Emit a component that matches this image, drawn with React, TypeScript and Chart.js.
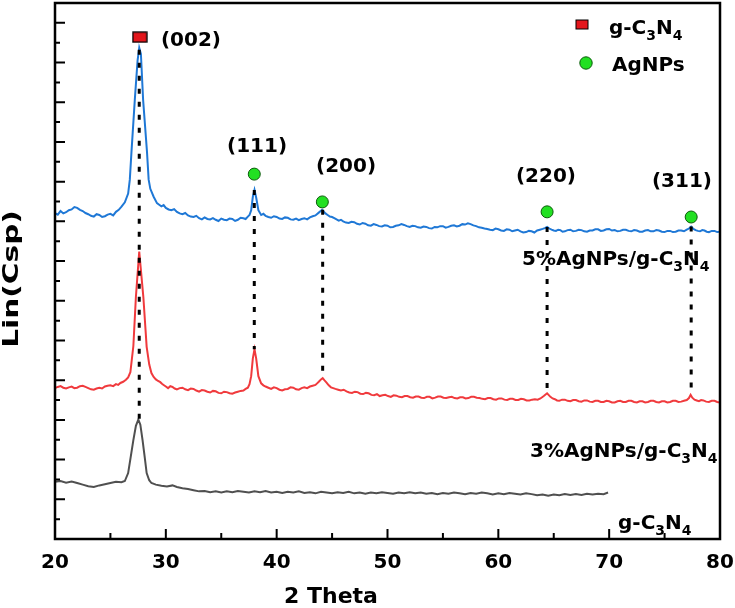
import { useEffect, useRef } from 'react';
import { Chart, registerables } from 'chart.js';
import type { Plugin } from 'chart.js';

Chart.register(...registerables);

// XRD patterns, [2theta, intensity] (arbitrary counts)
const pattern5: number[][] = [
  [20, 821], [20.25, 817], [20.5, 826], [20.75, 820], [21, 823], [21.25, 828], [21.5, 830], [21.75, 836],
  [22, 834], [22.25, 829], [22.5, 826], [22.75, 821], [23, 818], [23.25, 814], [23.5, 812], [23.75, 818],
  [24, 816], [24.25, 811], [24.5, 813], [24.75, 817], [25, 819], [25.25, 815], [25.5, 824], [25.75, 829],
  [26, 837], [26.3, 848], [26.6, 870], [26.75, 905], [26.9, 975], [27.2, 1106], [27.45, 1205],
  [27.6, 1237], [27.75, 1222], [27.95, 1106], [28.3, 975], [28.45, 905], [28.6, 882], [28.9, 862],
  [29.2, 846], [29.4, 842], [29.6, 838], [29.8, 841], [30, 834], [30.25, 830], [30.5, 828], [30.75, 831],
  [31, 824], [31.25, 820], [31.5, 818], [31.75, 821], [32, 815], [32.25, 812], [32.5, 811], [32.75, 814],
  [33, 808], [33.25, 805], [33.5, 810], [33.75, 806], [34, 805], [34.25, 808], [34.5, 804], [34.75, 801],
  [35, 807], [35.25, 804], [35.5, 803], [35.75, 807], [36, 806], [36.25, 801], [36.5, 804], [36.75, 809],
  [37, 808], [37.2, 806], [37.4, 812], [37.55, 816], [37.7, 828], [37.85, 862], [38, 879], [38.15, 860],
  [38.35, 828], [38.6, 816], [38.8, 819], [39, 814], [39.25, 811], [39.5, 809], [39.75, 813], [40, 811],
  [40.25, 807], [40.5, 806], [40.75, 810], [41, 809], [41.25, 805], [41.5, 804], [41.75, 807], [42, 803],
  [42.25, 806], [42.5, 808], [42.75, 805], [43, 810], [43.25, 813], [43.5, 815], [43.8, 822], [44.1, 829],
  [44.4, 820], [44.6, 816], [44.8, 812], [45, 811], [45.2, 808], [45.4, 805], [45.6, 802], [45.8, 804],
  [46, 800], [46.25, 797], [46.5, 796], [46.75, 799], [47, 798], [47.25, 794], [47.5, 792], [47.75, 796],
  [48, 794], [48.25, 790], [48.5, 789], [48.75, 793], [49, 791], [49.25, 788], [49.5, 787], [49.75, 790],
  [50, 789], [50.25, 785], [50.5, 786], [50.75, 789], [51, 790], [51.25, 793], [51.5, 791], [51.75, 788],
  [52, 786], [52.25, 789], [52.5, 788], [52.75, 785], [53, 784], [53.25, 787], [53.5, 786], [53.75, 783],
  [54, 782], [54.25, 786], [54.5, 785], [54.75, 788], [55, 788], [55.25, 784], [55.5, 786], [55.75, 789],
  [56, 790], [56.25, 787], [56.5, 789], [56.75, 793], [57, 792], [57.25, 795], [57.5, 793], [57.75, 790],
  [58, 788], [58.25, 785], [58.5, 784], [58.75, 782], [59, 781], [59.25, 779], [59.5, 778], [59.75, 782],
  [60, 780], [60.25, 777], [60.5, 776], [60.75, 780], [61, 779], [61.25, 775], [61.5, 777], [61.75, 779],
  [62, 775], [62.25, 772], [62.5, 773], [62.75, 776], [63, 775], [63.25, 772], [63.5, 777], [63.75, 779],
  [64, 781], [64.2, 783], [64.4, 786], [64.6, 782], [64.8, 779], [65, 777], [65.2, 776], [65.4, 779],
  [65.6, 778], [65.8, 774], [66, 775], [66.25, 778], [66.5, 779], [66.75, 775], [67, 776], [67.25, 779],
  [67.5, 778], [67.75, 775], [68, 774], [68.25, 777], [68.5, 777], [68.75, 780], [69, 780], [69.25, 776],
  [69.5, 777], [69.75, 780], [70, 781], [70.25, 777], [70.5, 778], [70.75, 775], [71, 776], [71.25, 779],
  [71.5, 779], [71.75, 776], [72, 775], [72.25, 778], [72.5, 777], [72.75, 774], [73, 774], [73.25, 777],
  [73.5, 778], [73.75, 775], [74, 775], [74.25, 778], [74.5, 777], [74.75, 774], [75, 773], [75.25, 776],
  [75.5, 776], [75.75, 773], [76, 774], [76.25, 777], [76.5, 777], [76.75, 775], [77, 779], [77.2, 782],
  [77.4, 787], [77.6, 781], [77.8, 778], [78, 776], [78.2, 775], [78.4, 778], [78.6, 777], [78.8, 774],
  [79, 773], [79.25, 776], [79.5, 776], [79.75, 773], [80, 774],
];

const pattern3: number[][] = [
  [20, 380], [20.25, 383], [20.5, 385], [20.75, 381], [21, 379], [21.25, 382], [21.5, 384], [21.75, 380],
  [22, 381], [22.25, 385], [22.5, 386], [22.75, 383], [23, 380], [23.25, 377], [23.5, 376], [23.75, 379],
  [24, 381], [24.25, 379], [24.5, 384], [24.75, 386], [25, 387], [25.25, 385], [25.5, 390], [25.7, 388],
  [25.9, 393], [26.15, 396], [26.4, 401], [26.6, 407], [26.8, 420], [27.07, 486], [27.3, 610],
  [27.6, 724], [27.97, 610], [28.27, 484], [28.5, 440], [28.7, 418], [28.9, 408], [29.1, 402],
  [29.3, 398], [29.5, 395], [29.65, 391], [29.8, 388], [30, 384], [30.2, 380], [30.4, 385], [30.6, 383],
  [30.8, 379], [31, 377], [31.25, 380], [31.5, 381], [31.75, 377], [32, 375], [32.25, 379], [32.5, 378],
  [32.75, 374], [33, 371], [33.25, 375], [33.5, 374], [33.75, 371], [34, 369], [34.25, 373], [34.5, 372],
  [34.75, 368], [35, 367], [35.25, 371], [35.5, 370], [35.75, 367], [36, 366], [36.25, 369], [36.5, 371],
  [36.75, 373], [37, 374], [37.2, 378], [37.4, 381], [37.55, 390], [37.7, 410], [37.85, 455], [38, 478],
  [38.15, 455], [38.35, 410], [38.6, 392], [38.8, 387], [39, 384], [39.25, 381], [39.5, 378], [39.75, 382],
  [40, 380], [40.25, 376], [40.5, 374], [40.75, 377], [41, 378], [41.25, 382], [41.5, 381], [41.75, 377],
  [42, 376], [42.25, 380], [42.5, 382], [42.75, 380], [43, 384], [43.25, 386], [43.5, 388], [43.65, 392],
  [43.8, 396], [44, 402], [44.15, 405], [44.3, 400], [44.5, 394], [44.7, 387], [44.9, 382], [45.1, 380],
  [45.3, 378], [45.55, 376], [45.8, 374], [46.05, 376], [46.3, 372], [46.55, 369], [46.8, 368],
  [47.05, 371], [47.3, 370], [47.55, 366], [47.8, 365], [48.05, 368], [48.3, 367], [48.55, 363],
  [48.8, 362], [49.05, 365], [49.3, 360], [49.55, 362], [49.8, 363], [50.05, 360], [50.3, 358],
  [50.55, 362], [50.8, 361], [51.05, 358], [51.3, 357], [51.55, 360], [51.8, 360], [52.05, 357],
  [52.3, 356], [52.55, 359], [52.8, 359], [53.05, 356], [53.3, 355], [53.55, 358], [53.8, 358],
  [54.05, 354], [54.3, 356], [54.55, 359], [54.8, 359], [55.05, 356], [55.3, 355], [55.55, 357],
  [55.8, 358], [56.05, 355], [56.3, 354], [56.55, 357], [56.8, 357], [57.05, 354], [57.3, 355],
  [57.55, 358], [57.8, 358], [58.05, 356], [58.3, 355], [58.55, 353], [58.8, 352], [59.05, 355],
  [59.3, 355], [59.55, 352], [59.8, 351], [60.05, 354], [60.3, 354], [60.55, 351], [60.8, 350],
  [61.05, 353], [61.3, 353], [61.55, 350], [61.8, 350], [62.05, 353], [62.3, 352], [62.55, 349],
  [62.8, 349], [63.05, 351], [63.3, 352], [63.55, 351], [63.8, 354], [64.1, 360], [64.4, 367],
  [64.7, 358], [64.9, 354], [65.1, 352], [65.3, 349], [65.5, 348], [65.75, 351], [66, 351], [66.25, 348],
  [66.5, 347], [66.75, 350], [67, 350], [67.25, 347], [67.5, 346], [67.75, 349], [68, 349], [68.25, 346],
  [68.5, 345], [68.75, 348], [69, 348], [69.25, 345], [69.5, 345], [69.75, 348], [70, 347], [70.25, 344],
  [70.5, 344], [70.75, 347], [71, 348], [71.25, 345], [71.5, 345], [71.75, 348], [72, 348], [72.25, 345],
  [72.5, 344], [72.75, 347], [73, 347], [73.25, 344], [73.5, 345], [73.75, 348], [74, 348], [74.25, 345],
  [74.5, 344], [74.75, 347], [75, 347], [75.25, 344], [75.5, 345], [75.75, 348], [76, 348], [76.25, 345],
  [76.5, 346], [76.75, 348], [77, 350], [77.2, 355], [77.35, 363], [77.5, 356], [77.7, 351], [77.9, 349],
  [78.1, 347], [78.3, 350], [78.5, 349], [78.75, 346], [79, 345], [79.25, 348], [79.5, 348], [79.75, 345],
  [80, 344],
];

const patternC3N4: number[][] = [
  [20, 144], [20.5, 146], [21, 142], [21.5, 145], [22, 141], [22.5, 137], [23, 133], [23.5, 131],
  [24, 135], [24.5, 138], [25, 141], [25.5, 144], [26, 143], [26.3, 146], [26.6, 166], [26.85, 210],
  [27.07, 249], [27.3, 285], [27.52, 301], [27.7, 288], [27.9, 249], [28.1, 205], [28.27, 166],
  [28.5, 148], [28.7, 141], [29.1, 137], [29.6, 134], [30.1, 132], [30.6, 135], [31, 131],
  [31.5, 128], [32, 126], [32.5, 123], [33, 120], [33.5, 121], [34, 118], [34.5, 120], [35, 117],
  [35.5, 120], [36, 118], [36.5, 121], [37, 119], [37.5, 117], [38, 120], [38.5, 118], [39, 121],
  [39.5, 117], [40, 119], [40.5, 116], [41, 119], [41.5, 117], [42, 120], [42.5, 116], [43, 118],
  [43.5, 115], [44, 119], [44.5, 117], [45, 115], [45.5, 118], [46, 116], [46.5, 119], [47, 115],
  [47.5, 117], [48, 114], [48.5, 117], [49, 115], [49.5, 118], [50, 116], [50.5, 114], [51, 117],
  [51.5, 115], [52, 118], [52.5, 115], [53, 117], [53.5, 114], [54, 116], [54.5, 113], [55, 116],
  [55.5, 114], [56, 117], [56.5, 115], [57, 113], [57.5, 116], [58, 114], [58.5, 117], [59, 115],
  [59.5, 112], [60, 115], [60.5, 113], [61, 116], [61.5, 114], [62, 112], [62.5, 115], [63, 113],
  [63.5, 110], [64, 112], [64.5, 109], [65, 112], [65.5, 110], [66, 113], [66.5, 111], [67, 113],
  [67.5, 111], [68, 114], [68.5, 112], [69, 114], [69.5, 113], [69.9, 117],
];

// peak markers
const c3n4PeakX = [27.65];
const c3n4PeakY = [1264];
const agPeakX = [37.98, 44.12, 64.4, 77.4];
const agPeakY = [919, 849, 824, 811];

// dotted drop lines: x, top, bottom
const dropX = [27.6, 37.98, 44.15, 64.4, 77.4];
const dropTop = [1232, 879, 829, 786, 787];
const dropBottom = [301, 478, 405, 367, 363];

// reflections
const hklText = ['(002)', '(111)', '(200)', '(220)', '(311)'];
const hklX = [32.27, 38.23, 46.26, 64.3, 76.57];
const hklY = [1242, 975, 924, 899, 887];

// sample names (left edge, baseline)
const sampleNames = [
  [['5%AgNPs/g-C', false], ['3', true], ['N', false], ['4', true]],
  [['3%AgNPs/g-C', false], ['3', true], ['N', false], ['4', true]],
  [['g-C', false], ['3', true], ['N', false], ['4', true]],
] as [string, boolean][][];
const sampleX = [62.14, 62.86, 70.8];
const sampleY = [690, 207, 25];

const xTicks = [20, 30, 40, 50, 60, 70, 80];

const FONT = '"DejaVu Sans", "Liberation Sans", Arial, sans-serif';
const BLUE = '#1f78d6';
const RED = '#f03a3d';
const GRAY = '#505050';
const GREEN = '#22e022';

function squareStyle(w: number, h: number) {
  const c = document.createElement('canvas');
  c.width = w + 2;
  c.height = h + 2;
  const g = c.getContext('2d')!;
  g.fillStyle = '#e4161c';
  g.fillRect(1, 1, w, h);
  g.strokeStyle = '#000';
  g.lineWidth = 1.3;
  g.strokeRect(1, 1, w, h);
  return c;
}

function drawRich(ctx: CanvasRenderingContext2D, parts: [string, boolean][], x: number, y: number, size: number, align: 'left' | 'center') {
  const subSize = Math.round(size * 0.72);
  let total = 0;
  for (const [t, sub] of parts) {
    ctx.font = `bold ${sub ? subSize : size}px ${FONT}`;
    total += ctx.measureText(t).width;
  }
  let cx = align === 'center' ? x - total / 2 : x;
  ctx.textAlign = 'left';
  ctx.textBaseline = 'alphabetic';
  for (const [t, sub] of parts) {
    ctx.font = `bold ${sub ? subSize : size}px ${FONT}`;
    ctx.fillText(t, cx, sub ? y + size * 0.3 : y);
    cx += ctx.measureText(t).width;
  }
}

const decor: Plugin = {
  id: 'decor',
  afterDatasetsDraw(chart) {
    const { ctx, chartArea: a } = chart;
    const xs = chart.scales.x;
    const ys = chart.scales.y;
    ctx.save();
    ctx.fillStyle = '#000';
    ctx.strokeStyle = '#000';

    // inward tick marks
    ctx.lineWidth = 2;
    ctx.beginPath();
    for (let v = 25; v < 80; v += 5) {
      const px = xs.getPixelForValue(v);
      const len = v % 10 === 0 ? 10 : 6;
      ctx.moveTo(px, a.bottom);
      ctx.lineTo(px, a.bottom - len);
    }
    for (let v = 50; v <= 1300; v += 50) {
      const py = ys.getPixelForValue(v);
      const len = v % 100 === 0 ? 10 : 5;
      ctx.moveTo(a.left, py);
      ctx.lineTo(a.left + len, py);
    }
    ctx.stroke();

    // frame
    ctx.lineWidth = 2.5;
    ctx.strokeRect(a.left, a.top, a.right - a.left, a.bottom - a.top);

    // reflections
    hklText.forEach((t, i) => {
      drawRich(ctx, [[t, false]], xs.getPixelForValue(hklX[i]), ys.getPixelForValue(hklY[i]), 20, 'center');
    });

    // sample names
    sampleNames.forEach((parts, i) => {
      drawRich(ctx, parts, xs.getPixelForValue(sampleX[i]), ys.getPixelForValue(sampleY[i]), 20, 'left');
    });

    // legend
    const lx = a.right - 138;
    ctx.fillStyle = '#e4161c';
    ctx.fillRect(lx - 6, a.top + 17, 12, 9);
    ctx.lineWidth = 1;
    ctx.strokeRect(lx - 6, a.top + 17, 12, 9);
    ctx.beginPath();
    ctx.arc(lx + 4, a.top + 60, 6.2, 0, Math.PI * 2);
    ctx.fillStyle = GREEN;
    ctx.fill();
    ctx.strokeStyle = '#0b5a0b';
    ctx.stroke();
    ctx.fillStyle = '#000';
    drawRich(ctx, [['g-C', false], ['3', true], ['N', false], ['4', true]], lx + 27, a.top + 31, 20, 'left');
    drawRich(ctx, [['AgNPs', false]], lx + 30, a.top + 68, 20, 'left');

    // axis titles
    ctx.font = `bold 22px ${FONT}`;
    ctx.textAlign = 'center';
    ctx.textBaseline = 'middle';
    ctx.fillText('2 Theta', a.left + 276, a.bottom + 58);

    ctx.save();
    ctx.translate(13, (a.top + a.bottom) / 2 + 8);
    ctx.rotate(-Math.PI / 2);
    ctx.scale(1.41, 1);
    ctx.font = `bold 21px ${FONT}`;
    ctx.fillText('Lin(Csp)', 0, 0);
    ctx.restore();

    ctx.restore();
  },
};

export default function App() {
  const canvasRef = useRef<HTMLCanvasElement>(null);

  useEffect(() => {
    if (!canvasRef.current) return;
    const toPts = (rows: number[][]) => rows.map(([x, y]) => ({ x, y }));

    const curve = (label: string, rows: number[][], color: string, order: number) => ({
      label,
      data: toPts(rows),
      showLine: true,
      borderColor: color,
      borderWidth: 2,
      pointRadius: 0,
      tension: 0,
      order,
    });

    const drops = dropX.map((x, i) => ({
      label: `drop-${i}`,
      data: [{ x, y: dropTop[i] }, { x, y: dropBottom[i] }],
      showLine: true,
      borderColor: '#000',
      borderWidth: 3,
      borderDash: [5, 8],
      pointRadius: 0,
      order: 1,
    }));

    const chart = new Chart(canvasRef.current, {
      type: 'scatter',
      data: {
        datasets: [
          {
            label: 'g-C3N4 peak',
            data: c3n4PeakX.map((x, i) => ({ x, y: c3n4PeakY[i] })),
            pointStyle: squareStyle(14, 10),
            pointRadius: 7,
            order: 0,
          },
          {
            label: 'AgNPs',
            data: agPeakX.map((x, i) => ({ x, y: agPeakY[i] })),
            pointStyle: 'circle',
            pointRadius: 6,
            backgroundColor: GREEN,
            borderColor: '#0b5a0b',
            borderWidth: 1,
            order: 0,
          },
          ...drops,
          curve('5%AgNPs/g-C3N4', pattern5, BLUE, 2),
          curve('3%AgNPs/g-C3N4', pattern3, RED, 3),
          curve('g-C3N4', patternC3N4, GRAY, 4),
        ] as any,
      },
      options: {
        animation: false,
        responsive: true,
        maintainAspectRatio: false,
        events: [],
        layout: { autoPadding: false, padding: { top: 3, right: 15, left: 0, bottom: 0 } },
        plugins: {
          legend: { display: false },
          tooltip: { enabled: false },
        },
        scales: {
          x: {
            type: 'linear',
            min: 20,
            max: 80,
            afterBuildTicks: (scale) => {
              scale.ticks = xTicks.map((value) => ({ value }));
            },
            afterFit: (scale) => {
              scale.height = 69;
              scale.paddingLeft = 0;
              scale.paddingRight = 0;
            },
            grid: { display: false, drawTicks: false },
            border: { display: false },
            ticks: {
              color: '#000',
              padding: 12,
              maxRotation: 0,
              font: { family: FONT, size: 20, weight: 'bold' },
            },
          },
          y: {
            type: 'linear',
            min: 0,
            max: 1350,
            afterFit: (scale) => {
              scale.width = 55;
              scale.paddingTop = 0;
              scale.paddingBottom = 0;
            },
            grid: { display: false, drawTicks: false },
            border: { display: false },
            ticks: { display: false },
          },
        },
      },
      plugins: [decor],
    });

    return () => {
      chart.destroy();
    };
  }, []);

  return (
    <div style={{ position: 'absolute', left: 0, top: 0, width: 735, height: 608 }}>
      <canvas ref={canvasRef} />
    </div>
  );
}
